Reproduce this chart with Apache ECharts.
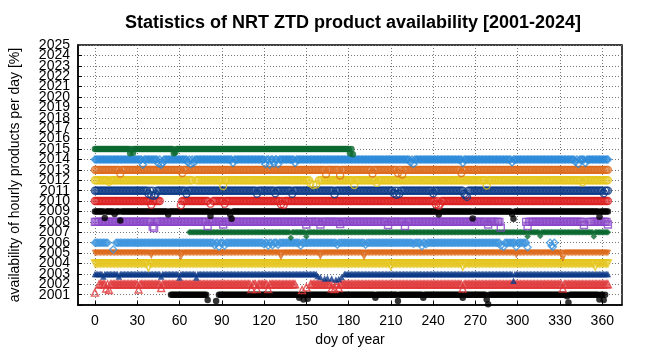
<!DOCTYPE html>
<html>
<head>
<meta charset="utf-8">
<title>NRT ZTD availability</title>
<script src="https://cdn.jsdelivr.net/npm/echarts@6/dist/echarts.min.js"></script>
<style>
  html, body { margin: 0; padding: 0; background: #fff; }
  #chart { width: 647px; height: 352px; }
</style>
</head>
<body>
<div id="chart"></div>
<script>
// years shown (rows) and the y tick labels
var years = [2001, 2002, 2003, 2004, 2005, 2006, 2007, 2008, 2009, 2010, 2011, 2012, 2013, 2014, 2015];
var yTicks = [2001, 2002, 2003, 2004, 2005, 2006, 2007, 2008, 2009, 2010, 2011, 2012, 2013, 2014, 2015, 2016, 2017, 2018, 2019, 2020, 2021, 2022, 2023, 2024, 2025];
var xTicks = [0, 30, 60, 90, 120, 150, 180, 210, 240, 270, 300, 330, 360];

// days with full (100%) availability, per year: [firstDoy, lastDoy]
var fullRuns = [
  [[54, 79], [88, 362]],                          // 2001
  [[3, 142], [153, 364]],                         // 2002
  [[0, 157], [177, 364]],                         // 2003
  [[0, 364]],                                     // 2004
  [[0, 364]],                                     // 2005
  [[0, 9], [15, 287], [291, 306], [323, 326]],    // 2006
  [[67, 364]],                                    // 2007
  [[0, 288], [306, 346], [351, 364]],             // 2008
  [[0, 13], [15, 364]],                           // 2009
  [[0, 46], [61, 80], [84, 364]],                 // 2010
  [[0, 364]],                                     // 2011
  [[0, 69], [72, 152], [159, 364]],               // 2012
  [[0, 364]],                                     // 2013
  [[0, 364]],                                     // 2014
  [[0, 183]]                                      // 2015
];

// days below 100%, per year: [doy, percent]
var lowDays = [
  [[80, 50], [86, 40], [145, 70], [148, 55], [151, 60], [199, 70], [215, 40], [233, 70], [261, 70], [278, 55], [279, 8], [335, 85], [336, 25], [358, 55], [361, 50]],
  [[0, 20], [8, 60], [10, 45], [31, 50], [47, 65], [111, 55], [115, 55], [123, 55], [147, 45], [150, 70], [168, 60], [170, 55], [173, 65], [261, 60], [332, 60]],
  [[6, 75], [17, 75], [47, 75], [60, 65], [72, 65], [158, 80], [160, 70], [163, 55], [165, 60], [168, 55], [171, 45], [173, 50], [175, 70], [297, 35]],
  [[38, 60], [210, 75], [261, 70], [355, 70]],
  [[40, 75], [61, 60], [132, 60], [160, 65], [191, 60], [299, 80], [331, 80], [332, 45]],
  [[13, 35], [85, 75], [88, 60], [92, 70], [120, 85], [123, 70], [126, 75], [130, 80], [146, 70], [172, 80], [192, 80], [226, 90], [232, 65], [235, 85], [288, 70], [290, 60], [299, 60], [307, 55], [324, 70], [325, 60]],
  [[139, 48], [150, 60], [307, 60], [316, 65], [354, 60]],
  [[41, 55], [42, 40], [80, 60], [91, 75], [150, 75], [160, 75], [174, 80], [208, 70], [220, 60], [279, 75], [288, 45], [307, 60], [347, 70], [364, 75]],
  [[7, 38], [14, 75], [18, 13], [52, 70], [82, 57], [96, 70], [97, 30], [244, 70], [268, 32], [296, 76], [297, 29], [358, 48]],
  [[40, 65], [61, 60], [82, 75], [92, 75], [132, 70], [134, 65], [242, 70], [244, 55], [245, 75]],
  [[38, 70], [40, 55], [42, 50], [43, 65], [65, 70], [115, 70], [128, 75], [140, 70], [170, 65], [212, 75], [214, 60], [216, 70], [240, 75], [262, 70], [263, 55], [264, 40], [361, 75]],
  [[10, 85], [91, 45], [153, 70], [155, 55], [157, 60], [184, 55], [200, 75], [278, 50], [346, 80]],
  [[18, 65], [62, 70], [164, 60], [174, 45], [197, 65], [215, 70], [218, 55], [260, 70]],
  [[34, 50], [45, 60], [47, 50], [48, 65], [66, 70], [68, 55], [70, 65], [98, 65], [121, 55], [124, 50], [127, 60], [130, 55], [142, 65], [224, 70], [226, 55], [261, 65], [296, 70], [341, 75], [343, 55], [348, 65]],
  [[25, 60], [27, 65], [56, 60], [57, 70], [181, 60], [183, 50]]
];

var colors = ['#000000', '#e0383a', '#0d3a87', '#e5c51c', '#dd6a1b', '#3d95de', '#0b6930', '#8a45c8',
              '#000000', '#dc1f1f', '#0d3a87', '#e5c51c', '#dd6a1b', '#2a8ad9', '#0b6930'];
var symbols = ['circle', 'triangle', 'triangle', 'triangle', 'triangle', 'diamond', 'diamond', 'rect',
               'circle', 'circle', 'circle', 'circle', 'circle', 'diamond', 'circle'];
var rotations = [0, 0, 0, 180, 180, 0, 0, 0, 0, 0, 0, 0, 0, 0, 0];
var hollow = [false, true, false, true, false, true, false, true, false, true, true, true, true, true, false];

// a row sits on its year line when 100% available and drops by pct below it
function rowData(i) {
  var byDay = {};
  fullRuns[i].forEach(function (r) {
    for (var d = r[0]; d <= r[1]; d++) byDay[d] = 100;
  });
  lowDays[i].forEach(function (p) { byDay[p[0]] = p[1]; });
  return Object.keys(byDay).map(Number).sort(function (a, b) { return a - b; })
    .map(function (d) { return [d, years[i] - (100 - byDay[d]) / 100]; });
}

var series = years.map(function (y, i) {
  return {
    name: String(y),
    type: 'scatter',
    symbol: symbols[i],
    symbolRotate: rotations[i],
    symbolSize: hollow[i] ? 7 : 6.5,
    itemStyle: hollow[i]
      ? { color: 'rgba(0,0,0,0)', borderColor: colors[i], borderWidth: 1.4 }
      : { color: colors[i] },
    data: rowData(i)
  };
});

var dotted = { color: '#777', width: 1, type: [1, 2] };
var labelFont = { fontFamily: 'Liberation Sans', fontSize: 14, color: '#000' };
var lastTick = yTicks[yTicks.length - 1];

var chart = echarts.init(document.getElementById('chart'), null, { renderer: 'canvas' });
chart.setOption({
  animation: false,
  title: {
    text: 'Statistics of NRT ZTD product availability [2001-2024]',
    left: 120,
    top: 9,
    textStyle: { fontFamily: 'Liberation Sans', fontSize: 18, fontWeight: 'bold', color: '#000' }
  },
  grid: {
    left: 77, right: 25, top: 45, bottom: 45,
    show: true, borderColor: '#000', borderWidth: 1.5, backgroundColor: 'transparent'
  },
  xAxis: {
    type: 'value',
    min: -12,
    max: 374,
    name: 'doy of year',
    nameLocation: 'middle',
    nameGap: 26,
    nameTextStyle: labelFont,
    axisLine: { show: true, onZero: false, lineStyle: { color: '#000', width: 1.5 } },
    axisTick: { show: true, inside: true, length: 4, customValues: xTicks, lineStyle: { color: '#000' } },
    axisLabel: Object.assign({ customValues: xTicks, margin: 9 }, labelFont),
    splitLine: { show: true, lineStyle: dotted }
  },
  yAxis: [{
    type: 'value',
    min: 2000,
    max: 2025,
    interval: 1,
    name: 'availability of hourly products per day [%]',
    nameLocation: 'middle',
    nameGap: 56,
    nameTextStyle: labelFont,
    axisLine: { show: true, onZero: false, lineStyle: { color: '#000', width: 1.5 } },
    axisTick: { show: true, inside: true, length: 4, lineStyle: { color: '#000' } },
    axisLabel: Object.assign({
      margin: 8,
      showMaxLabel: false,
      formatter: function (v) { return (yTicks.indexOf(v) >= 0 && v !== lastTick) ? String(v) : ''; }
    }, labelFont),
    splitLine: { show: true, lineStyle: dotted }
  }, {
    // only carries the top label, which the first axis drops when labels crowd
    type: 'value',
    position: 'left',
    min: 2000,
    max: 2025,
    interval: 1,
    axisLine: { show: false },
    axisTick: { show: false },
    splitLine: { show: false },
    axisLabel: Object.assign({
      margin: 8,
      showMaxLabel: true,
      showMinLabel: false,
      formatter: function (v) { return v === lastTick ? String(v) : ''; }
    }, labelFont)
  }],
  series: series
});
</script>
</body>
</html>
